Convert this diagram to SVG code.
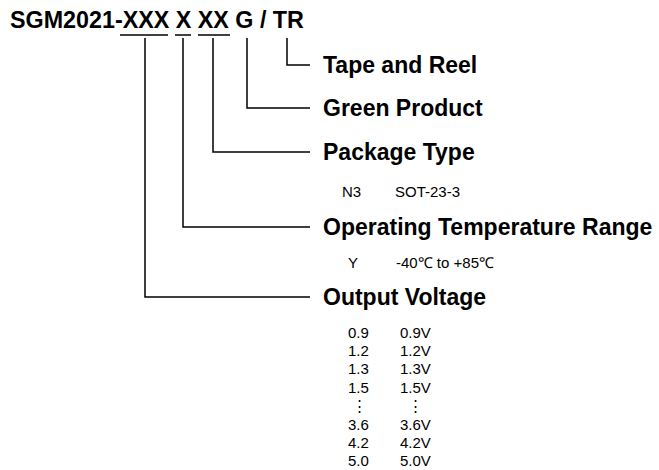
<svg xmlns="http://www.w3.org/2000/svg" width="659" height="470" viewBox="0 0 659 470">
<style>
.t{font-family:"Liberation Sans",Arial,sans-serif;font-weight:bold;font-size:23px;fill:#000}
.s{font-family:"Liberation Sans",Arial,sans-serif;font-size:15px;fill:#000}
.c{text-anchor:middle}
.ln{stroke:#000;stroke-width:1.5;fill:none}
</style>
<rect width="659" height="470" fill="#fff"/>
<g id="title">
<text class="t" x="10" y="28" style="font-size:23.3px">SGM2021-XXX X XX G / TR</text>
</g>
<g id="connectors">
<line class="ln" x1="120" y1="35" x2="168" y2="35"/>
<line class="ln" x1="175" y1="35" x2="191" y2="35"/>
<line class="ln" x1="198" y1="35" x2="230" y2="35"/>
<polyline class="ln" points="287,38 287,65 310,65"/>
<polyline class="ln" points="247,38 247,108 310,108"/>
<polyline class="ln" points="213,38 213,152 310,152"/>
<polyline class="ln" points="183,38 183,227 310,227"/>
<polyline class="ln" points="145,38 145,297 310,297"/>
</g>
<g id="tape"><text class="t" x="323" y="73">Tape and Reel</text></g>
<g id="green"><text class="t" x="323" y="116">Green Product</text></g>
<g id="package">
<text class="t" x="323" y="160">Package Type</text>
<text class="s" x="342" y="197">N3</text>
<text class="s" x="395" y="197">SOT-23-3</text>
</g>
<g id="temp">
<text class="t" x="323" y="235">Operating Temperature Range</text>
<text class="s" x="348" y="268">Y</text>
<text class="s" x="396" y="268">-40℃ to +85℃</text>
</g>
<g id="voltage">
<text class="t" x="323" y="305">Output Voltage</text>
<g class="s">
<text x="348" y="337.5">0.9</text><text x="400" y="337.5">0.9V</text>
<text x="348" y="356">1.2</text><text x="400" y="356">1.2V</text>
<text x="348" y="374.3">1.3</text><text x="400" y="374.3">1.3V</text>
<text x="348" y="392.7">1.5</text><text x="400" y="392.7">1.5V</text>
<text class="c" x="359" y="411">⋮</text><text class="c" x="415" y="411">⋮</text>
<text x="348" y="429.5">3.6</text><text x="400" y="429.5">3.6V</text>
<text x="348" y="448">4.2</text><text x="400" y="448">4.2V</text>
<text x="348" y="466.3">5.0</text><text x="400" y="466.3">5.0V</text>
</g>
</g>
</svg>
